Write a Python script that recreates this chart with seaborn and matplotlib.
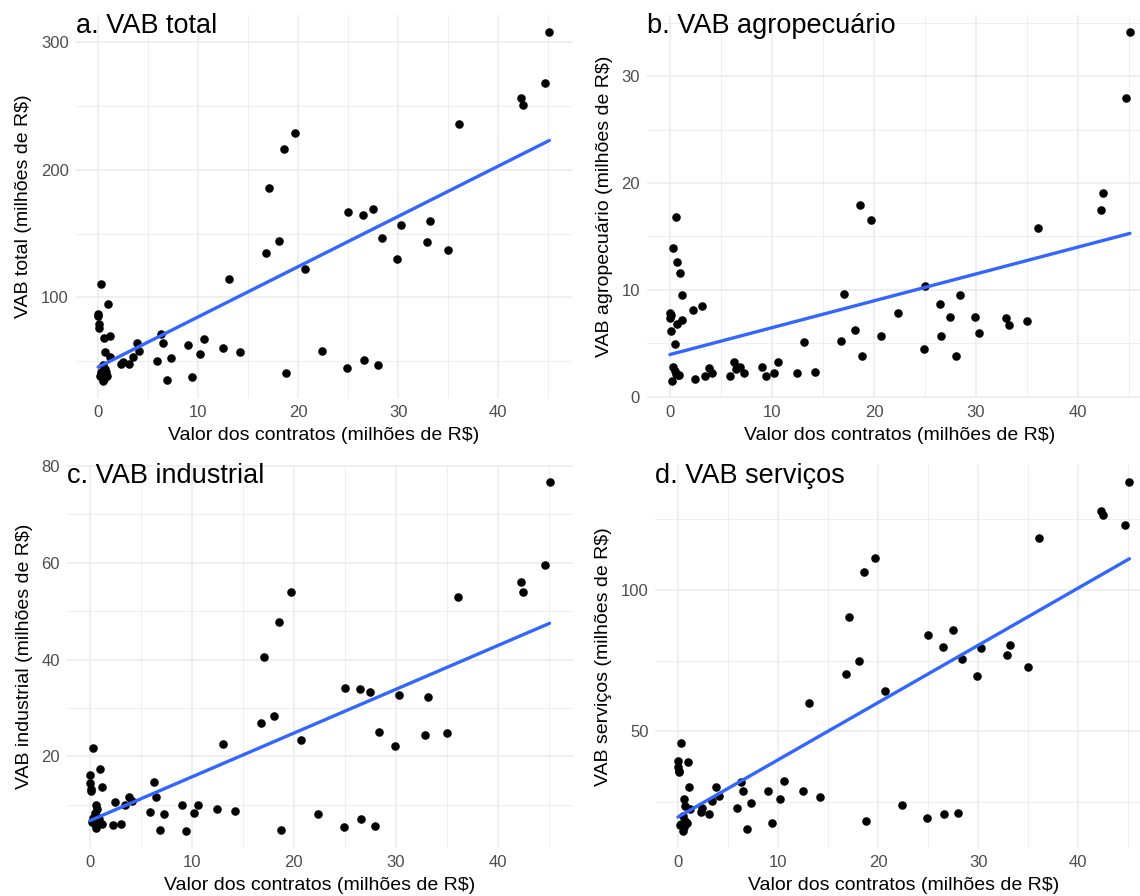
import numpy as np
import pandas as pd
import matplotlib
matplotlib.use('Agg')
import matplotlib.pyplot as plt
from matplotlib.ticker import MultipleLocator
import seaborn as sns

# valor dos contratos (milhoes de R$), same municipalities in all four panels
contratos = [45.1, 44.7, 42.3, 42.5, 36.1, 19.7, 18.6, 17.1, 25.0, 26.5,
             27.5, 33.2, 30.3, 18.1, 28.4, 32.9, 16.8, 35.0, 29.9, 20.7,
             13.1, 22.4, 26.6, 28.0, 24.9, 18.8, 9.4, 6.9, 10.6, 9.0,
             12.5, 14.2, 10.2, 6.3, 6.5, 7.3, 5.9, 3.85, 4.1, 3.45,
             2.3, 2.45, 3.1, 0.3, 1.0, 0.0, 0.02, 0.1, 0.07, 1.15,
             0.6, 0.7, 1.2, 0.5, 0.7, 0.3, 0.2, 0.6, 0.8, 0.5, 0.9]
vab_total = [307.8, 268.4, 256.7, 250.7, 236.3, 228.5, 216.2, 185.9, 167.1, 164.8,
             168.9, 159.5, 156.4, 144.1, 146.2, 143.3, 134.5, 137.1, 130.3, 122.2,
             114.6, 57.7, 50.4, 47.0, 44.6, 40.7, 37.1, 35.0, 67.6, 62.4,
             60.0, 57.2, 55.6, 71.3, 64.0, 52.7, 50.1, 64.2, 57.7, 53.5,
             47.5, 49.1, 48.0, 110.2, 94.8, 87.0, 85.0, 79.0, 76.0, 69.7,
             68.4, 57.4, 53.5, 47.0, 44.0, 41.0, 38.5, 36.0, 41.2, 34.6, 38.0]
vab_agro = [34.1, 28.0, 17.5, 19.1, 15.8, 16.5, 17.9, 9.6, 10.4, 8.7,
            7.5, 6.7, 6.0, 6.2, 9.5, 7.4, 5.2, 7.1, 7.5, 5.7,
            5.1, 7.8, 5.7, 3.8, 4.5, 3.8, 1.9, 2.8, 3.2, 2.8,
            2.2, 2.3, 2.2, 3.2, 2.6, 2.2, 1.9, 2.7, 2.2, 1.9,
            8.1, 1.65, 8.5, 13.9, 11.6, 7.8, 7.4, 6.1, 7.6, 9.5,
            16.8, 12.6, 7.2, 4.9, 6.8, 2.8, 1.5, 2.1, 2.0, 2.4, 2.0]
vab_ind = [76.6, 59.5, 56.0, 53.9, 53.0, 54.0, 47.7, 40.6, 34.2, 34.0,
           33.3, 32.3, 32.6, 28.4, 25.1, 24.4, 26.9, 24.8, 22.2, 23.4,
           22.5, 8.2, 7.1, 5.7, 5.5, 4.9, 4.7, 4.8, 10.0, 10.0,
           9.2, 8.8, 8.4, 14.7, 11.7, 8.2, 8.6, 11.7, 10.9, 10.0,
           5.9, 10.7, 6.0, 21.7, 17.4, 16.1, 14.6, 13.3, 12.8, 13.6,
           10.0, 9.2, 6.1, 8.4, 7.5, 7.3, 6.5, 5.3, 6.5, 6.0, 7.0]
vab_serv = [137.9, 122.9, 127.7, 126.5, 118.2, 111.2, 106.1, 90.3, 83.9, 79.7,
            85.8, 80.5, 79.6, 74.8, 75.4, 77.0, 70.3, 72.7, 69.6, 64.2,
            59.9, 24.0, 20.7, 21.2, 19.6, 18.2, 17.5, 15.7, 32.5, 29.0,
            28.8, 26.8, 26.1, 32.2, 29.0, 24.7, 22.8, 30.2, 27.3, 25.4,
            21.6, 23.1, 20.7, 46.0, 39.1, 39.6, 37.5, 36.0, 35.5, 30.4,
            26.3, 23.5, 22.6, 20.0, 18.5, 17.3, 17.0, 16.1, 17.8, 15.0, 17.8]

df = pd.DataFrame({'contratos': contratos, 'total': vab_total, 'agro': vab_agro,
                   'ind': vab_ind, 'serv': vab_serv})

sns.set_theme(style='whitegrid')
plt.rcParams['font.family'] = ['Liberation Sans', 'DejaVu Sans']

fig = plt.figure(figsize=(11.4, 8.96), dpi=100)

panels = [
    ('total', 'a. VAB total', 'VAB total (milhões de R$)', [0.0663, 0.5558, 0.4354, 0.4275], 100),
    ('agro', 'b. VAB agropecuário', 'VAB agropecuário (milhões de R$)', [0.5675, 0.5558, 0.4439, 0.4275], 10),
    ('ind', 'c. VAB industrial', 'VAB industrial (milhões de R$)', [0.0586, 0.0536, 0.4436, 0.4275], 20),
    ('serv', 'd. VAB serviços', 'VAB serviços (milhões de R$)', [0.5749, 0.0536, 0.4356, 0.4275], 50),
]

for col, title, ylab, pos, step in panels:
    ax = fig.add_axes(pos)
    sns.scatterplot(data=df, x='contratos', y=col, color='black', s=38,
                    linewidth=0, ax=ax, zorder=3)
    sns.regplot(data=df, x='contratos', y=col, scatter=False, ci=None,
                color='#3366FF', line_kws={'lw': 2.4, 'zorder': 4}, ax=ax)

    # ggplot-like 5% expansion
    xr = df['contratos'].max() - df['contratos'].min()
    ax.set_xlim(df['contratos'].min() - 0.05 * xr, df['contratos'].max() + 0.05 * xr)
    yr = df[col].max() - df[col].min()
    ax.set_ylim(df[col].min() - 0.05 * yr, df[col].max() + 0.05 * yr)

    ax.xaxis.set_major_locator(MultipleLocator(10))
    ax.xaxis.set_minor_locator(MultipleLocator(5))
    ax.yaxis.set_major_locator(MultipleLocator(step))
    ax.yaxis.set_minor_locator(MultipleLocator(step / 2))
    ax.grid(which='major', color='#EBEBEB', lw=1.1)
    ax.grid(which='minor', color='#EFEFEF', lw=0.7)
    ax.set_axisbelow(True)
    for s in ax.spines.values():
        s.set_visible(False)
    ax.set_facecolor('white')
    ax.tick_params(which='both', length=0, labelsize=12, labelcolor='#4D4D4D', pad=5)

    ax.set_xlabel('Valor dos contratos (milhões de R$)', fontsize=14, color='black', labelpad=5)
    ax.set_ylabel(ylab, fontsize=14, color='black', labelpad=6)
    ax.text(0.0, 1.005, title, transform=ax.transAxes, ha='left', va='top',
            fontsize=19.5, color='black', zorder=5)

fig.savefig('out.png', dpi=100, facecolor='white')
